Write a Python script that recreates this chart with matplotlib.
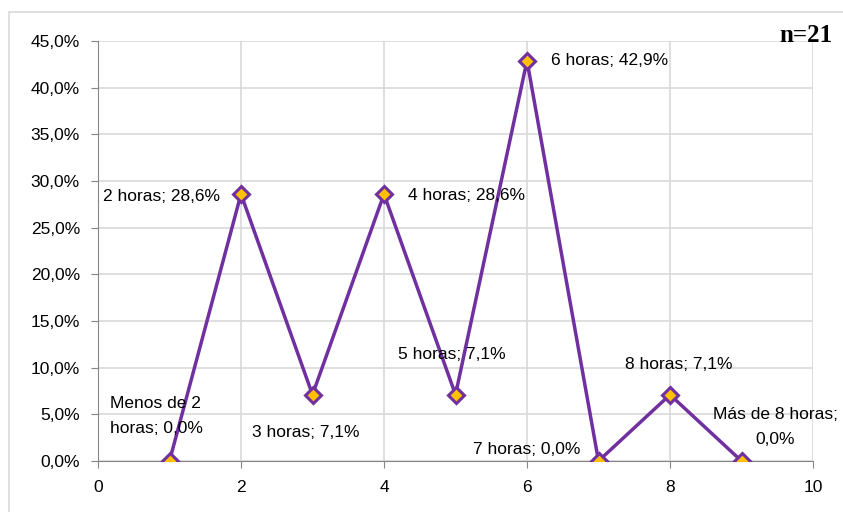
# Horas de sueño - gráfico de líneas con etiquetas de datos
import matplotlib
matplotlib.use('Agg')
import matplotlib.pyplot as plt
from matplotlib.patches import Rectangle
from matplotlib.ticker import FuncFormatter, MultipleLocator

categorias = ['Menos de 2\nhoras', '2 horas', '3 horas', '4 horas', '5 horas',
              '6 horas', '7 horas', '8 horas', 'Más de 8 horas;\n']
posiciones = [1, 2, 3, 4, 5, 6, 7, 8, 9]
porcentajes = [0.0, 28.6, 7.1, 28.6, 7.1, 42.9, 0.0, 7.1, 0.0]
n_total = 'n=21'

# offsets of each data label (pixels) and alignment
offsets = [(-60, 45), (-21, -2), (-7, -38), (24, -1), (-4, 40),
           (24, 0), (-18, 12), (9, 30), (34, 34)]
aligns = ['left', 'right', 'center', 'left', 'center',
          'left', 'right', 'center', 'center']

plt.rcParams['font.family'] = ['Liberation Sans', 'DejaVu Sans']

fig = plt.figure(figsize=(8.43, 5.12), dpi=100)
ax = fig.add_axes([98 / 843, 51 / 512, 715 / 843, 420 / 512])

purple = '#7030A0'
ax.plot(posiciones, porcentajes, color=purple, linewidth=2.5,
        marker='D', markersize=8, markerfacecolor='#FFC000',
        markeredgecolor=purple, markeredgewidth=2.2, zorder=3)

ax.set_xlim(0, 10)
ax.set_ylim(0, 45)
ax.xaxis.set_major_locator(MultipleLocator(2))
ax.yaxis.set_major_locator(MultipleLocator(5))
ax.yaxis.set_major_formatter(FuncFormatter(lambda v, p: f'{v:.1f}%'.replace('.', ',')))
ax.grid(True, color='#D9D9D9', linewidth=1.2)
ax.set_axisbelow(True)
for s in ['top', 'right']:
    ax.spines[s].set_visible(False)
for s in ['left', 'bottom']:
    ax.spines[s].set_color('#868686')
ax.tick_params(colors='#868686', labelcolor='black', labelsize=12.5, length=5,
               direction='out')
ax.tick_params(axis='x', pad=9)
ax.tick_params(axis='y', pad=8)

for i, (x, y) in enumerate(zip(posiciones, porcentajes)):
    nombre = categorias[i]
    valor = f'{y:.1f}%'.replace('.', ',')
    if nombre.endswith('\n'):
        texto = nombre + valor
    else:
        texto = nombre + '; ' + valor
    ax.annotate(texto, (x, y), xytext=offsets[i], textcoords='offset pixels',
                ha=aligns[i], va='center', multialignment=aligns[i],
                fontsize=12.5, linespacing=1.9, annotation_clip=False)

fig.text(833 / 843, 1 - 36 / 512, n_total, ha='right', va='center',
         fontsize=18, fontweight='bold', family=['Liberation Serif', 'DejaVu Serif'])

fig.patches.append(Rectangle((9 / 843, -0.01), 1.0, 1 - 12 / 512 + 0.01,
                             transform=fig.transFigure, fill=False,
                             edgecolor='#D9D9D9', linewidth=1.2))

fig.savefig('out.png', dpi=100)
